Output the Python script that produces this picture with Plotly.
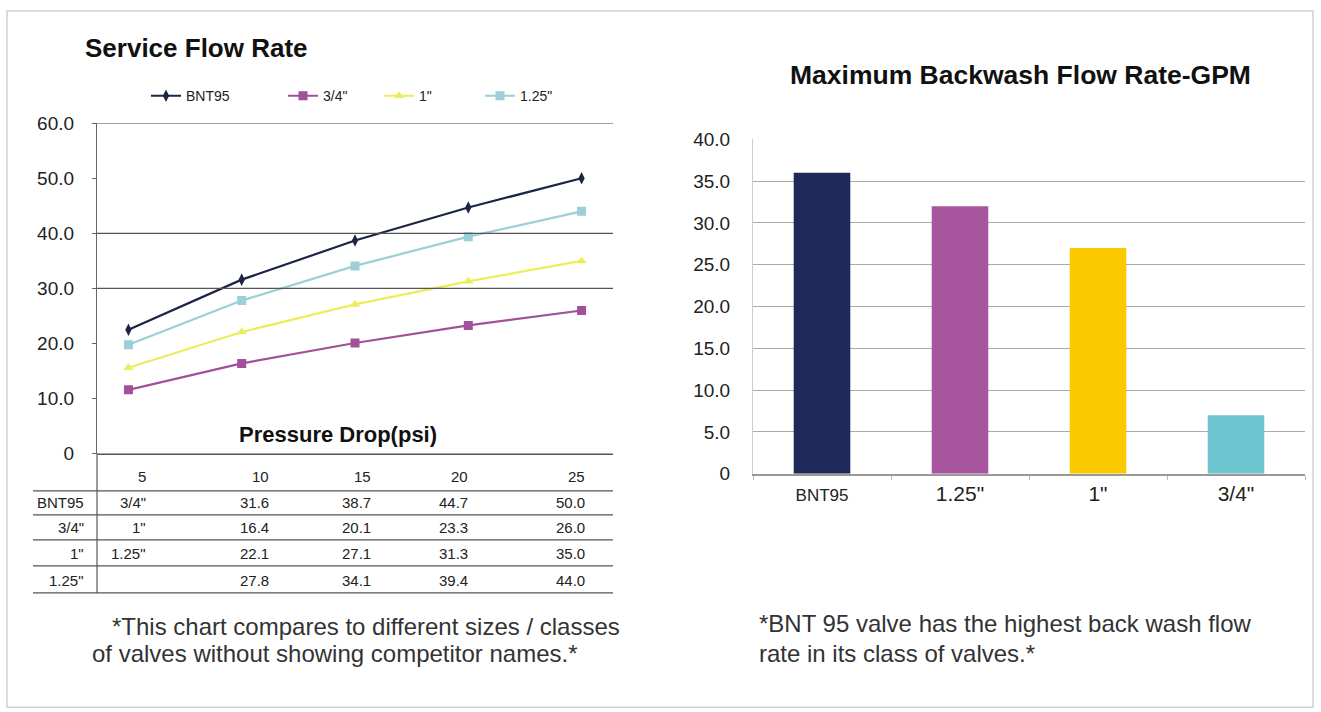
import plotly.graph_objects as go

# ---------------- data ----------------
pressure = ["5", "10", "15", "20", "25"]
bnt95 = [22.5, 31.6, 38.7, 44.7, 50.0]
v34 = [11.6, 16.4, 20.1, 23.3, 26.0]
v1 = [15.6, 22.1, 27.1, 31.3, 35.0]
v125 = [19.8, 27.8, 34.1, 39.4, 44.0]
series_names = ["BNT95", '3/4"', '1"', '1.25"']
table_first_col = ['3/4"', '1"', '1.25"', '']   # as printed in the table's "5" column
left_yticks = [0, 10, 20, 30, 40, 50, 60]
left_ytext = ["0", "10.0", "20.0", "30.0", "40.0", "50.0", "60.0"]
left_gridlines = [30, 40, 60]

backwash_cats = ["BNT95", '1.25"', '1"', '3/4"']
backwash_vals = [36, 32, 27, 7]
right_yticks = [0, 5, 10, 15, 20, 25, 30, 35, 40]
right_ytext = ["0", "5.0", "10.0", "15.0", "20.0", "25.0", "30.0", "35.0", "40.0"]

# ---------------- style ----------------
W, H = 1321, 740
FONT = "Arial, Liberation Sans, Helvetica, sans-serif"
line_colors = ["#1c2546", "#a0519a", "#eded5a", "#9ccfd6"]
markers = ["diamond-tall", "square", "triangle-up", "square"]
bar_colors = ["#1e2a5a", "#a6559e", "#fcc800", "#6cc5cf"]
legend_ids = ["legend", "legend2", "legend3", "legend4"]
legend_x = [146, 283, 379, 480]

# the captured picture maps page y -> 10 + 0.97*y ; targets are given in picture pixels
SY, OFFY = 0.97, 10.0


def px(x):
    return x / W


def py(y):
    return 1 - ((y - OFFY) / SY) / H


fig = go.Figure()

series = [bnt95, v34, v1, v125]
for name, vals, col, sym, lg in zip(series_names, series, line_colors, markers, legend_ids):
    fig.add_trace(go.Scatter(
        x=pressure, y=vals, name=name, mode="lines+markers",
        line=dict(color=col, width=2.2),
        marker=dict(symbol=sym, size=9, color=col),
        xaxis="x", yaxis="y", legend=lg,
    ))

fig.add_trace(go.Bar(
    x=backwash_cats, y=backwash_vals, marker=dict(color=bar_colors, line=dict(width=0)),
    width=0.41, showlegend=False, xaxis="x2", yaxis="y2",
))

legend_style = dict(orientation="h", yanchor="middle", xanchor="left",
                    font=dict(size=14, color="#222"), itemwidth=30,
                    bgcolor="rgba(0,0,0,0)", borderwidth=0)
legends = {}
for lg, lx in zip(legend_ids, legend_x):
    legends[lg] = dict(legend_style, x=px(lx), y=py(96))

fig.update_layout(
    width=W, height=H,
    margin=dict(l=0, r=0, t=0, b=0),
    paper_bgcolor="white", plot_bgcolor="white",
    font=dict(family=FONT, color="#222"),
    xaxis=dict(domain=[px(97), px(613)], type="category", showticklabels=False,
               showline=False, ticks="", showgrid=False, zeroline=False, anchor="y"),
    yaxis=dict(domain=[py(453), py(123)], range=[0, 60], tickvals=left_yticks,
               ticktext=left_ytext, showgrid=False, zeroline=False, showline=True,
               linecolor="#666", linewidth=1.3, ticks="outside", ticklen=4,
               tickcolor="#666", ticklabelstandoff=14,
               tickfont=dict(size=19, color="#222"), anchor="x"),
    xaxis2=dict(domain=[px(753), px(1305)], type="category", showgrid=False,
                showline=True, linecolor="#999", linewidth=1.5, ticks="outside",
                tickson="boundaries", ticklen=4, tickcolor="#bbb",
                tickfont=dict(size=21, color="#222"), anchor="y2",
                tickvals=backwash_cats,
                ticktext=['<span style="font-size:17px">' + backwash_cats[0] + '</span>'] + backwash_cats[1:]),
    yaxis2=dict(domain=[py(473), py(139)], range=[0, 40], tickvals=right_yticks,
                ticktext=right_ytext, showgrid=True, gridcolor="#aaa", gridwidth=1.3,
                zeroline=False, showline=True, linecolor="#ccc", ticks="",
                ticklabelstandoff=18, tickfont=dict(size=19, color="#222"), anchor="x2"),
    showlegend=True,
    **legends,
)

shapes = []
# partial gridlines of the left chart
for g in left_gridlines:
    shapes.append(dict(type="line", xref="paper", yref="y", x0=px(97), x1=px(613),
                       y0=g, y1=g, line=dict(color="#555", width=1.3)))
# zero line of the left chart
shapes.append(dict(type="line", xref="paper", yref="paper", x0=px(97), x1=px(613),
                   y0=py(453.5), y1=py(453.5), line=dict(color="#555", width=1.3)))
# vertical axis extended through the data table
shapes.append(dict(type="line", xref="paper", yref="paper", x0=px(97), x1=px(97),
                   y0=py(453), y1=py(592), line=dict(color="#666", width=1.3)))
# table rules
for yy in [490, 514, 539, 565, 592]:
    shapes.append(dict(type="line", xref="paper", yref="paper", x0=px(33), x1=px(613),
                       y0=py(yy), y1=py(yy), line=dict(color="#555", width=1.3)))
# outer frame
frame = dict(color="#d0d0d0", width=1.5)
shapes.append(dict(type="rect", xref="paper", yref="paper", x0=px(7), x1=px(1313),
                   y0=py(706), y1=py(11), line=frame))
fig.update_layout(shapes=shapes)

ann = []
ann.append(dict(text="<b>Service Flow Rate</b>", x=px(83), y=py(48), xref="paper", yref="paper",
                xanchor="left", yanchor="middle", showarrow=False, font=dict(size=26, color="#111")))
ann.append(dict(text="<b>Maximum Backwash Flow Rate-GPM</b>", x=px(1020), y=py(75), xref="paper",
                yref="paper", xanchor="center", yanchor="middle", showarrow=False,
                font=dict(size=26.5, color="#111")))
ann.append(dict(text="<b>Pressure Drop(psi)</b>", x=px(338), y=py(434), xref="paper", yref="paper",
                xanchor="center", yanchor="middle", showarrow=False, font=dict(size=22, color="#111")))

# data table under the line chart
col_right = [148, 271, 373, 470, 587]
for xr, lab in zip(col_right, pressure):
    ann.append(dict(text=lab, x=px(xr), y=py(476), xref="paper", yref="paper", xanchor="right",
                    yanchor="middle", showarrow=False, font=dict(size=15, color="#222")))
row_y = [502, 527, 553, 580]
for i, (name, vals) in enumerate(zip(series_names, series)):
    ann.append(dict(text=name, x=px(86), y=py(row_y[i]), xref="paper", yref="paper",
                    xanchor="right", yanchor="middle", showarrow=False,
                    font=dict(size=15, color="#222")))
    cells = [table_first_col[i]] + [f"{v:.1f}" for v in vals[1:]]
    for xr, c in zip(col_right, cells):
        if c:
            ann.append(dict(text=c, x=px(xr), y=py(row_y[i]), xref="paper", yref="paper",
                            xanchor="right", yanchor="middle", showarrow=False,
                            font=dict(size=15, color="#222")))

# footnotes
foot = dict(size=24, color="#333")
ann.append(dict(text="*This chart compares to different sizes / classes", x=px(110), y=py(625),
                xref="paper", yref="paper", xanchor="left", yanchor="middle", showarrow=False,
                font=foot))
ann.append(dict(text="of valves without showing competitor names.*", x=px(90), y=py(652),
                xref="paper", yref="paper", xanchor="left", yanchor="middle", showarrow=False,
                font=foot))
ann.append(dict(text="*BNT 95 valve has the highest back wash flow", x=px(757), y=py(622),
                xref="paper", yref="paper", xanchor="left", yanchor="middle", showarrow=False,
                font=foot))
ann.append(dict(text="rate in its class of valves.*", x=px(757), y=py(652),
                xref="paper", yref="paper", xanchor="left", yanchor="middle", showarrow=False,
                font=foot))
fig.update_layout(annotations=ann)

post = ("var gd=document.getElementById('{plot_id}');"
        "gd.style.position='fixed';gd.style.left='0px';gd.style.top='0px';"
        "document.body.style.margin='0';document.documentElement.style.overflow='hidden';"
        "document.body.style.overflow='hidden';")
fig.write_html("out.html", post_script=post, config={"displayModeBar": False})
